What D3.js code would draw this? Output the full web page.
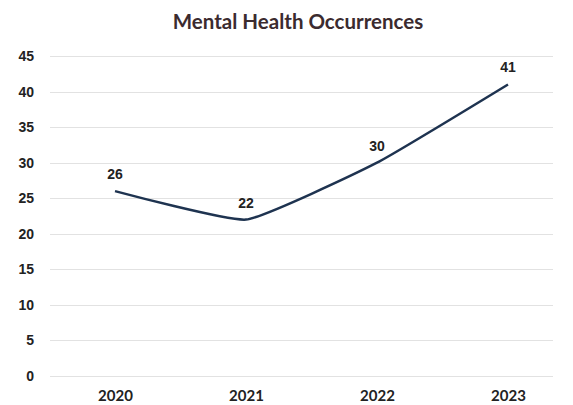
<!DOCTYPE html>
<html>
<head>
<meta charset="utf-8">
<script src="https://cdn.jsdelivr.net/npm/d3@7"></script>
<style>
  html, body { margin: 0; padding: 0; background: #ffffff; }
  svg { display: block; }
</style>
</head>
<body>
<svg id="chart" width="573" height="405"></svg>
<script>
// Chart data
const years = ["2020", "2021", "2022", "2023"];
const occurrences = [26, 22, 30, 41];
const yTicks = [0, 5, 10, 15, 20, 25, 30, 35, 40, 45];
const chartTitle = "Mental Health Occurrences";

const svg = d3.select("#chart");

const x = d3.scalePoint().domain(years).range([115, 508]);
const y = d3.scaleLinear().domain([0, 45]).range([376, 56]);

const gridLeft = 50, gridRight = 553;

// Title
svg.append("text")
  .attr("x", 298)
  .attr("y", 29)
  .attr("text-anchor", "middle")
  .attr("font-family", "Lato, 'Open Sans', sans-serif")
  .attr("font-weight", "bold")
  .attr("font-size", 20.5)
  .attr("fill", "#3b2b2f")
  .text(chartTitle);

// Horizontal gridlines
svg.append("g")
  .selectAll("line")
  .data(yTicks)
  .join("line")
  .attr("x1", gridLeft)
  .attr("x2", gridRight)
  .attr("y1", d => Math.round(y(d)) + 0.5)
  .attr("y2", d => Math.round(y(d)) + 0.5)
  .attr("stroke", "#e2e2e2")
  .attr("stroke-width", 1);

// Y axis labels
const yAxis = d3.axisLeft(y).tickValues(yTicks).tickSize(0).tickPadding(0);
const yg = svg.append("g").attr("transform", "translate(34,0)").call(yAxis);
yg.select(".domain").remove();
yg.selectAll("text")
  .attr("font-family", "'Liberation Sans', Arial, sans-serif")
  .attr("font-weight", "bold")
  .attr("font-size", 14)
  .attr("fill", "#222");

// X axis labels
const xAxis = d3.axisBottom(x).tickSize(0).tickPadding(0);
const xg = svg.append("g").attr("transform", "translate(0,390)").call(xAxis);
xg.select(".domain").remove();
xg.selectAll("text")
  .attr("font-family", "Lato, 'Open Sans', sans-serif")
  .attr("font-weight", "bold")
  .attr("font-size", 15)
  .attr("fill", "#222");

// Series line
const line = d3.line()
  .x((d, i) => x(years[i]))
  .y(d => y(d))
  .curve(d3.curveCardinal.tension(0.6));

svg.append("path")
  .datum(occurrences)
  .attr("d", line)
  .attr("fill", "none")
  .attr("stroke", "#1e3350")
  .attr("stroke-width", 2.5)
  .attr("stroke-linejoin", "round");

// Value labels
svg.append("g")
  .selectAll("text")
  .data(occurrences)
  .join("text")
  .attr("x", (d, i) => x(years[i]))
  .attr("y", d => y(d) - 12)
  .attr("text-anchor", "middle")
  .attr("font-family", "'Liberation Sans', Arial, sans-serif")
  .attr("font-weight", "bold")
  .attr("font-size", 14)
  .attr("fill", "#222")
  .text(d => d);
</script>
</body>
</html>
